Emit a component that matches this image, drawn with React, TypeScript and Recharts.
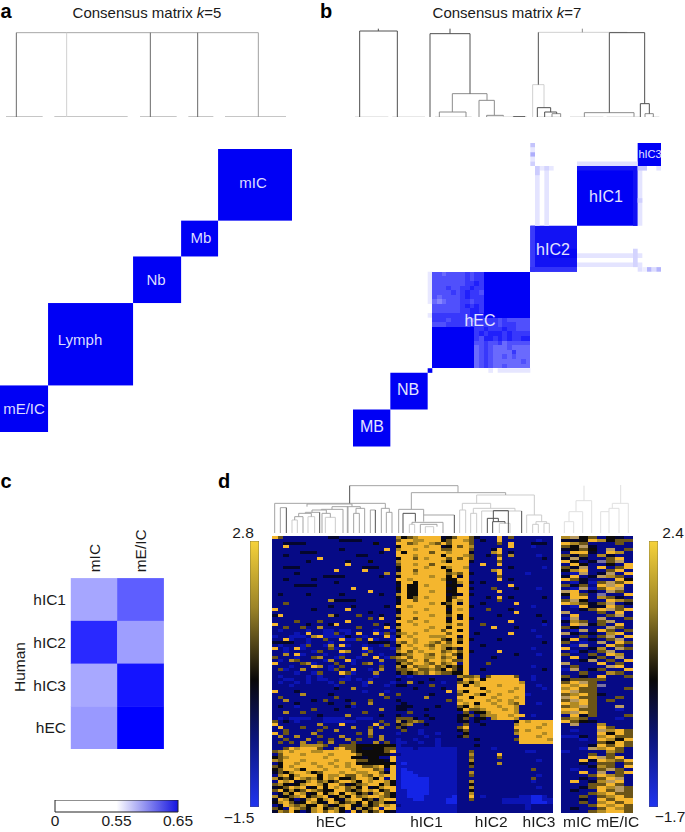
import React from "react";
import {
  Bar,
  BarChart,
  Line,
  LineChart,
  ReferenceArea,
  ReferenceLine,
  Scatter,
  ScatterChart,
  XAxis,
  YAxis,
} from "recharts";

const FONT = '"Liberation Sans", Arial, sans-serif';
const NO_MARGIN = { top: 0, right: 0, bottom: 0, left: 0 };
const BLUE = "#0000f5";

// dendrogram links: [left, right, height, left child height, right child height]
type Link = [number, number, number, number, number];

const dendroALines: Link[] = [[49, 775, 253, 253, 253]];
const dendroABase: Link[] = [[18, 128, 0, 0, 0], [163, 383, 0, 0, 0], [420, 530, 0, 0, 0], [565, 640, 0, 0, 0], [675, 858, 0, 0, 0]];
const dendroADark: Link[] = [[49, 49, 253, 0, 253], [451, 451, 253, 0, 253], [593, 593, 253, 0, 253]];
const dendroAMid: Link[] = [[775, 775, 253, 0, 253]];
const dendroALight: Link[] = [[200, 200, 253, 0, 253]];

const dendroBDark: Link[] = [
  [59, 172, 258, 0, 0], [115, 115, 265, 258, 265], [270, 390, 250, 0, 70], [330, 330, 265, 250, 265],
  [595, 595, 254, 97, 254], [808, 914, 253, 13, 40], [592, 632, 28, 0, 15], [614, 650, 15, 0, 10],
  [901, 928, 40, 0, 10], [520, 555, 1, 0, 0],
];
const dendroBMid: Link[] = [
  [337, 441, 70, 15, 50], [417, 463, 50, 0, 5], [298, 378, 15, 0, 0], [440, 490, 5, 0, 2],
  [636, 662, 10, 0, 0], [915, 940, 10, 0, 0], [733, 882, 13, 0, 0], [727, 727, 265, 254, 265],
];
const dendroBLight: Link[] = [
  [595, 862, 254, 254, 254], [578, 612, 97, 0, 28], [45, 145, 0, 0, 0], [157, 255, 0, 0, 0], [285, 395, 0, 0, 0],
  [440, 560, 0, 0, 0], [590, 660, 0, 0, 0], [690, 790, 0, 0, 0], [800, 880, 0, 0, 0], [885, 900, 0, 0, 0], [935, 958, 0, 0, 0],
];

const dendroDDark: Link[] = [
  [233, 233, 143, 90, 143], [43, 43, 77, 0, 77], [143, 143, 63, 0, 63], [393, 430, 60, 0, 35], [547, 547, 55, 0, 55],
  [664, 709, 68, 35, 0], [646, 679, 45, 0, 35], [749, 749, 67, 0, 67], [662, 699, 35, 0, 30], [310, 310, 70, 0, 70],
];
const dendroDMid: Link[] = [
  [233, 558, 143, 143, 122], [8, 340, 90, 0, 75], [25, 43, 77, 0, 77], [68, 93, 50, 40, 0], [80, 118, 60, 50, 50],
  [100, 143, 63, 60, 63], [150, 175, 60, 0, 48], [120, 163, 70, 63, 60], [148, 213, 72, 70, 0], [180, 228, 80, 72, 0],
  [105, 240, 88, 80, 80], [245, 262, 60, 0, 0], [252, 278, 75, 60, 0], [226, 265, 80, 0, 75], [295, 310, 70, 0, 70],
  [328, 352, 75, 0, 63], [343, 360, 63, 0, 0], [418, 701, 122, 72, 115], [380, 455, 72, 0, 55], [455, 547, 55, 35, 55],
  [420, 513, 33, 27, 0], [445, 495, 27, 0, 20],
];
const dendroDLight: Link[] = [
  [60, 76, 40, 0, 0], [108, 128, 50, 0, 0], [160, 190, 48, 0, 0], [412, 428, 27, 0, 0], [460, 485, 20, 0, 0],
  [614, 787, 115, 90, 55], [571, 656, 90, 70, 75], [563, 581, 70, 0, 0], [596, 614, 60, 0, 0], [604, 729, 75, 60, 67],
  [629, 749, 67, 0, 67], [682, 714, 30, 0, 0], [764, 809, 55, 0, 35], [792, 824, 35, 27, 30], [782, 799, 27, 0, 0], [816, 832, 30, 0, 0],
];
const dendroDMouse: Link[] = [
  [912, 959, 98, 65, 0], [936, 936, 143, 98, 143], [891, 932, 65, 35, 0], [877, 905, 35, 0, 0],
  [1021, 1069, 90, 75, 0], [1046, 1046, 145, 90, 145], [1011, 1041, 75, 65, 0], [986, 1011, 65, 0, 0],
];

// panel a: samples in each cluster, bottom left to top right
const kFiveNames = ["mE/IC", "Lymph", "Nb", "Mb", "mIC"];
const kFiveSizes = [13, 23, 13, 10, 20];

// panel b: blocks of the 66 x 66 matrix [x1, x2, y1, y2, colour]
const kSevenBlocks: [number, number, number, number, string][] = [
  [0, 8, 0, 8, BLUE], [8, 16, 8, 16, BLUE], [16, 17, 16, 17, BLUE], [38, 39, 38, 39, BLUE],
  [38, 48, 38, 48, "#1212f4"], [38, 39, 38, 48, "#3a3afa"], [38, 48, 38, 39, "#3232f8"], [42, 48, 41, 43, "#0808f4"],
  [48, 61, 48, 61, BLUE], [48, 61, 60, 61, "#1414f2"], [60, 61, 48, 61, "#1010f4"], [61, 66, 61, 66, BLUE],
  [38, 39, 65, 66, "#c4c4fc"], [38, 39, 64, 65, "#e8e8ff"], [38, 39, 63, 64, "#aeaefc"], [38, 39, 62, 63, "#e8e8ff"], [38, 39, 61, 62, "#d0d0fe"],
  [39, 40, 48, 61, "#e4e4ff"], [41, 42, 48, 61, "#e4e4ff"], [39, 43, 60, 61, "#e8e8ff"], [39, 40, 59, 61, "#ccccfe"], [41, 42, 60, 61, "#d4d4fe"],
  [48, 61, 61, 62, "#e0e0ff"], [61, 62, 48, 61, "#e4e4ff"], [61, 62, 53, 54, "#cfcffe"],
  [61, 63, 60, 61, "#c8c8fe"], [65, 66, 60, 61, "#e4e4ff"],
  [48, 62, 41, 42, "#e4e4ff"], [48, 62, 39, 40, "#e4e4ff"], [60, 61, 39, 43, "#d4d4fe"],
  [61, 62, 38, 39, "#e0e0ff"], [62, 63, 38, 39, "#eeeeff"], [63, 64, 38, 39, "#b4b4fc"], [64, 65, 38, 39, "#dcdcff"], [65, 66, 38, 39, "#b4b4fc"],
  [16, 17, 31, 38, "#e8e8ff"], [16, 17, 28, 29, "#e8e8ff"], [29, 30, 16, 17, "#e8e8ff"], [31, 38, 16, 17, "#e6e6ff"],
];

// panel b: hEC block, 21 x 21 cells, first string is the top row
const hecShades: Record<string, string> = {
  f: BLUE, a: "#2020fb", b: "#3838fb", c: "#5050fc", d: "#6a6afd", e: "#8686fe",
};
const hecRows = [
  "ccdccccbcbbffffffffff", "cccccccbcbbffffffffff", "cccccccbbabffffffffff", "cccbccbbabbffffffffff",
  "ccccbcbabbcffffffffff", "cdccccbabbbffffffffff", "dedcccbbcbbffffffffff", "ccccccbababffffffffff",
  "ccccccbbaabffffffffff", "bbbbbbbbaaaffffffffff", "bbbcbbbccbbbbbcbccccc", "cccbbbbcbbbbbbcbbbccc",
  "fffffffffbbabbbabbccc", "fffffffffbabaaababbbb", "fffffffffbcaabababbaa", "fffffffffccbccbdccccc",
  "fffffffffdcbcdddcdddd", "fffffffffdcbcddddbddd", "fffffffffdcbcddcdcddd", "fffffffffdcbcddddddcd",
  "fffffffffdcbcddcddddd",
];

// panel c
const humanClusters = ["hIC1", "hIC2", "hIC3", "hEC"];
const mouseClusters = ["mIC", "mE/IC"];
const mICSimilarity = [0.585, 0.634, 0.584, 0.59];
const mEICSimilarity = [0.613, 0.588, 0.642, 0.65];
const similarityTicks = ["0", "0.55", "0.65"];

// panel d: one digit per cell, see exprColours
const exprColours = ["#1424e6", "#0b14b4", "#060a86", "#04062e", "#0d0b0a", "#6b5518", "#f4b62e", "#b89a60", "#7a72a0", "#b08a24"];
const EXPR_ROWS = 92;
const humanLabels = ["hEC", "hIC1", "hIC2", "hIC3"];
const humanLabelCols = [10.5, 27.5, 39, 47.5];
const humanDividers = [22, 33, 44.7];
const rowDividers = [46.2, 60.8, 69];
const mouseLabels = ["mIC", "mE/IC"];
const mouseLabelCols = [1.8, 6.3];
const humanExpr = [
  "6522222222332222222222 94596666345 665322262522 22222",
  "2222222222223333222222 56699666456 695232262222 22122",
  "2233332222222222224222 66596695656 665222252622 23332",
  "2262222222222222222222 46666966346 569222222622 21222",
  "2222222222223222222262 96696666556 665222362222 22222",
  "2222233322222222222322 64666656696 663222962322 22222",
  "2232222222222223322222 66696666466 695223252922 22122",
  "2222222262222222222222 46656966656 565222262222 22232",
  "2222223222222322242222 96666666946 663222252222 22222",
  "2222222222222622222222 56696656666 662262262222 22222",
  "2233322222222222333222 46666966496 692222222322 22212",
  "2222222222262222622222 36656666646 662222962222 22222",
  "2222322222222222222292 96696666659 563222262222 12222",
  "2222222223333222222322 46666696646 362222252222 22222",
  "2232222322222222222222 66966666944 662222262322 22222",
  "2222222222232222222222 46646666634 963232222222 22222",
  "2222333322222222222222 36446966644 362222222622 22222",
  "2222222222222262222222 46446666634 663222522232 22122",
  "2222222222222222262222 36446696644 662222262222 22222",
  "2322223222223222222322 96446666634 363222222222 22222",
  "2222222222222222222222 46456966645 662223262322 22232",
  "2222222222933332222222 36656666646 962222252222 22222",
  "2252222222222222222222 46666696456 362232222262 22222",
  "2222222222322232222232 66966666646 663222222222 21222",
  "6222222322222622222222 46666966636 962225222322 22222",
  "2222222222222222232222 36696666646 662222222262 22222",
  "3622222222932225222322 96666696656 462222232222 22322",
  "2222222222222222252622 46656666636 363222222222 22222",
  "2222522252222622222222 66966966646 662222222622 22232",
  "6222223222362222225232 46696666696 562252222222 22212",
  "2252252292222225222262 96666696646 662222622232 22222",
  "2122221221121122221221 46666966566 462222222222 21222",
  "2222126221152126226152 59696666656 662322222622 22222",
  "1221112961111322122261 46966699966 362222222222 22122",
  "2261221225226115261221 66696666546 563222232222 22222",
  "3333221222122222233332 95696695656 462222222222 22232",
  "2122215221926122122152 46966956996 662232222222 22222",
  "6212612222512222612221 56696696945 362222222222 21222",
  "2212222152226922152222 96569666596 563222262222 22222",
  "2292612221221222922122 45966956965 462222222232 22122",
  "5222122592215221226215 96566996596 362222322222 22222",
  "2129522221922612222922 55696566965 562222222222 22222",
  "6222259122252212592122 49566956596 262225222222 22222",
  "2221222692125222222522 94659965945 462222222222 21222",
  "2512292222152262212922 55965595465 362232222222 22232",
  "2222122152226512229222 35459569554 462222222222 22222",
  "2122221212222122221222 12122222222 955925666652 21222",
  "2211221211221121212222 32222232222 369646666662 21222",
  "2122121222125222192221 22923222122 594966666669 22222",
  "2221222222212222122212 33222252222 646966696666 22122",
  "2222222222232292222222 22232222322 666646666696 22212",
  "6222322222222222122212 22222222262 946669666966 22222",
  "2222292222322222222922 52222232222 566946696666 12222",
  "2522222222252222222252 22222922222 664666966696 22222",
  "2292222325222322252222 32222222252 966669696966 22222",
  "2222322222322252292222 23222222222 696466966956 22122",
  "2322122222222312222222 33322223222 546966696692 22222",
  "2222222522232222222922 33222322222 465596669692 22222",
  "2292252222222222522222 22522222222 252449666692 22222",
  "2222222232222922222322 32222322222 345259966966 21222",
  "2121111221111221112222 55532232222 352342966692 22222",
  "5232122221111112222522 93595222222 332322222236 96666",
  "6222222292226222226252 35922322222 252232222296 66696",
  "2622252225222292252922 53222222222 562222222266 66966",
  "2252222252292222292222 25221222222 352222222256 96666",
  "6252222922222225292222 12221221222 242222222296 66696",
  "2922922252229222252922 22222122222 352222222226 66966",
  "2252229222522925222922 12212221222 222322222256 66669",
  "2525292252922252229252 11221221222 222222222226 66666",
  "2222299995225554444444 12222221222 222322222222 22222",
  "2256966652296554334455 11121111111 222222122222 22222",
  "5969666996666654444456 11111111111 225222222222 11222",
  "2566696666966665444442 21111111111 229222262222 22222",
  "4596666669666644344226 11111111111 225222252222 22222",
  "9566696666696665544436 11111111111 229222222222 22122",
  "2466966966966964444444 10111111111 224222292222 22222",
  "5469666696696966559646 11111111111 225222222222 22222",
  "4566946669666696665926 10111111111 222222222222 25222",
  "3549669456669669966536 10011111111 229222222222 22222",
  "2964966646996556956966 10001111111 225222222222 22122",
  "9454695946964456694626 10000011111 222222222222 25222",
  "2696349659456694696694 10000011111 229222222222 21222",
  "5943496694665345966494 10000011111 224222222222 22222",
  "3456963464696594634966 10000011111 229222222222 22122",
  "5649456954466545696456 11000011111 224222222222 22222",
  "2394693464964694539654 11000011111 229222222222 22222",
  "9345964596349465966954 11000111110 226212222221 10012",
  "3694239649643966453966 11100111100 225222221111 10011",
  "4965346943694594645943 11111111100 222222221111 10001",
  "2369594465349643945696 21111111111 222222222222 12222",
  "5426954964594639456266 11111111111 222222222222 12222",
  "3956423965694263945643 11111111111 222222222222 22222",
];
const mouseExpr = [
  "9745 2432", "3346 9455", "6952 2252", "5473 2222", "3454 2725", "2663 2692", "5352 9322", "3732 2562",
  "6423 8572", "2642 2426", "5372 6256", "4962 2562", "2172 3726", "3623 7952", "6532 2264", "2131 5756",
  "5352 6762", "2171 5672", "7623 2752", "4652 8226", "2662 9532", "5742 2695", "6953 5723", "2163 3652",
  "2235 6756", "7222 5262", "2622 2572", "1722 7225", "3952 5722", "2673 5262", "5422 2752", "2172 6525",
  "7323 2962", "2252 5726", "3623 2572", "5212 7265", "2172 2652", "6223 9275", "2132 5722", "5225 2692",
  "2623 5272", "2237 2526", "7222 6252", "2522 2762", "1723 5226", "2252 2952", "5232 6225", "3555 5222",
  "5675 2222", "6965 8222", "9655 2225", "6755 2222", "5965 3222", "7655 2252", "5765 2522", "6965 2222",
  "5975 2272", "6655 2212", "9765 2222", "2635 2225", "5952 2212", "6543 2222", "2722 9222", "2222 6522",
  "2122 7965", "2222 6465", "1132 9655", "2212 6946", "2222 5465", "2223 6565", "2217 9652", "1222 2952",
  "2225 2522", "2226 7562", "2263 6956", "2232 5525", "2223 9526", "2122 5752", "2262 7256", "2225 6952",
  "2232 5672", "2623 9762", "2225 5652", "2235 6975", "2322 6575", "2225 9655", "2252 5965", "2232 6566",
  "2252 9656", "2225 6965", "2322 5695", "2225 9665",
];

function linkPoints(links: Link[]) {
  return links.flatMap(([l, r, h, hl, hr]) => [
    { x: l, h: hl },
    { x: l, h },
    { x: r, h },
    { x: r, h: hr },
    { x: r, h: null },
  ]);
}

function Dendrogram({ left, top, width, height, xMax, yMax, shades }: any) {
  return (
    <div style={{ position: "absolute", left, top }}>
      <LineChart width={width} height={height} margin={NO_MARGIN}>
        <XAxis type="number" dataKey="x" domain={[0, xMax]} hide />
        <YAxis type="number" domain={[0, yMax]} hide />
        {shades.map(([colour, links]: [string, Link[]], i: number) => (
          <Line
            key={i}
            data={linkPoints(links)}
            dataKey="h"
            stroke={colour}
            strokeWidth={1}
            dot={false}
            activeDot={false}
            connectNulls={false}
            isAnimationActive={false}
          />
        ))}
      </LineChart>
    </div>
  );
}

function cellsFromRows(rows: string[]) {
  return rows.flatMap((row, r) =>
    row
      .replace(/ /g, "")
      .split("")
      .map((level, c) => ({ x: c + 0.5, y: r + 0.5, level })),
  );
}

function ExprHeatmap({ left, width, cols, rows, labels, labelCols, dividers }: any) {
  const cellW = width / cols;
  const cellH = 277 / EXPR_ROWS;
  return (
    <div style={{ position: "absolute", left: left - 12, top: 536, filter: "blur(0.5px)" }}>
      <ScatterChart width={width + 24} height={277 + 19} margin={{ top: 0, right: 12, bottom: 0, left: 12 }}>
        <XAxis
          type="number"
          dataKey="x"
          domain={[0, cols]}
          ticks={labelCols}
          interval={0}
          height={19}
          tickFormatter={(v: number) => labels[labelCols.indexOf(v)]}
          axisLine={false}
          tickLine={false}
          tickSize={0}
          tickMargin={3}
          tick={{ fill: "#1a1a1a", fontSize: 15.5, fontFamily: FONT }}
        />
        <YAxis type="number" dataKey="y" domain={[0, EXPR_ROWS]} reversed hide />
        <Scatter
          data={cellsFromRows(rows)}
          isAnimationActive={false}
          shape={(p: any) => (
            <rect
              x={p.cx - cellW / 2}
              y={p.cy - cellH / 2}
              width={cellW}
              height={cellH}
              shapeRendering="crispEdges"
              fill={exprColours[Number(p.payload.level)]}
            />
          )}
        />
        {dividers.map((d: number) => (
          <ReferenceLine key={d} x={d} stroke="#b4b4d8" strokeOpacity={0.7} />
        ))}
        {rowDividers.map((d) => (
          <ReferenceLine key={d} y={d} stroke="#b4b4d8" strokeOpacity={0.6} />
        ))}
      </ScatterChart>
    </div>
  );
}

function ColourBar({ id, left }: { id: string; left: number }) {
  return (
    <div style={{ position: "absolute", left, top: 541 }}>
      <BarChart width={9} height={266} data={[{ name: id, v: 1 }]} margin={NO_MARGIN} barCategoryGap={0}>
        <defs>
          <linearGradient id={id} x1="0" y1="0" x2="0" y2="1">
            <stop offset="0%" stopColor="#f6d23a" />
            <stop offset="25%" stopColor="#9c8428" />
            <stop offset="52%" stopColor="#0a0808" />
            <stop offset="75%" stopColor="#0c1680" />
            <stop offset="100%" stopColor="#2034f0" />
          </linearGradient>
        </defs>
        <XAxis dataKey="name" hide />
        <YAxis domain={[0, 1]} hide />
        <Bar dataKey="v" fill={`url(#${id})`} stroke="#554" strokeWidth={0.6} isAnimationActive={false} />
      </BarChart>
    </div>
  );
}

function similarityColour(v: number) {
  const t = Math.min(1, Math.max(0, (v - 0.55) / 0.1));
  const c = Math.round(255 * (1 - t));
  return `rgb(${c},${c},255)`;
}

function RotatedTick({ x, y, payload }: any) {
  return (
    <text
      x={x}
      y={y}
      dy="0.35em"
      transform={`rotate(-90 ${x} ${y})`}
      fontSize={15.5}
      fontFamily={FONT}
      fill="#1a1a1a"
    >
      {mouseClusters[Math.floor(payload.value)]}
    </text>
  );
}

function SimilarityHeatmap() {
  const data = humanClusters.flatMap((_, r) => [
    { x: 0.5, y: r + 0.5, v: mICSimilarity[r] },
    { x: 1.5, y: r + 0.5, v: mEICSimilarity[r] },
  ]);
  const cellW = 92.7 / 2 + 0.4;
  const cellH = 171 / 4 + 0.4;
  return (
    <div style={{ position: "absolute", left: 0, top: 520 }}>
      <ScatterChart width={170} height={229.3} margin={{ top: 0, right: 6.3, bottom: 0, left: 0 }}>
        <XAxis
          type="number"
          dataKey="x"
          orientation="top"
          domain={[0, 2]}
          ticks={[0.5, 1.5]}
          interval={0}
          height={58.3}
          axisLine={false}
          tickLine={false}
          tickSize={4}
          tick={<RotatedTick />}
        />
        <YAxis
          type="number"
          dataKey="y"
          domain={[0, 4]}
          reversed
          ticks={[0.5, 1.5, 2.5, 3.5]}
          interval={0}
          width={71}
          axisLine={false}
          tickLine={false}
          tickSize={0}
          tickMargin={5}
          tickFormatter={(v: number) => humanClusters[Math.floor(v)]}
          tick={{ fill: "#1a1a1a", fontSize: 15.5, fontFamily: FONT }}
        />
        <Scatter
          data={data}
          isAnimationActive={false}
          shape={(p: any) => (
            <rect
              x={p.cx - cellW / 2}
              y={p.cy - cellH / 2}
              width={cellW}
              height={cellH}
              fill={similarityColour(p.payload.v)}
            />
          )}
        />
      </ScatterChart>
    </div>
  );
}

function SimilarityScale() {
  return (
    <div style={{ position: "absolute", left: 35, top: 800 }}>
      <BarChart
        layout="vertical"
        width={163}
        height={32}
        data={[{ name: "scale", v: 2 }]}
        margin={{ top: 0, right: 20, bottom: 0, left: 20 }}
        barCategoryGap={0}
      >
        <defs>
          <linearGradient id="simScale" x1="0" y1="0" x2="1" y2="0">
            <stop offset="0%" stopColor="#ffffff" />
            <stop offset="50%" stopColor="#ffffff" />
            <stop offset="100%" stopColor="#1414e0" />
          </linearGradient>
        </defs>
        <XAxis
          type="number"
          domain={[0, 2]}
          ticks={[0, 1, 2]}
          interval={0}
          height={20}
          axisLine={false}
          tickLine={false}
          tickSize={0}
          tickMargin={3}
          tickFormatter={(v: number) => similarityTicks[v]}
          tick={{ fill: "#1a1a1a", fontSize: 15.5, fontFamily: FONT }}
        />
        <YAxis type="category" dataKey="name" hide />
        <Bar dataKey="v" fill="url(#simScale)" stroke="#222" strokeWidth={1} isAnimationActive={false} />
      </BarChart>
    </div>
  );
}

function ClusterBlocksK5() {
  let start = 0;
  const blocks = kFiveSizes.map((size, i) => {
    const block = { name: kFiveNames[i], size, x: start + size / 2, y: start + size / 2 };
    start += size;
    return block;
  });
  return (
    <div style={{ position: "absolute", left: 0, top: 149 }}>
      <ScatterChart width={292} height={283} margin={NO_MARGIN}>
        <XAxis type="number" dataKey="x" domain={[0, 79]} hide />
        <YAxis type="number" dataKey="y" domain={[0, 79]} hide />
        <Scatter
          data={blocks}
          isAnimationActive={false}
          shape={(p: any) => {
            const w = (p.payload.size * 292) / 79;
            const h = (p.payload.size * 283) / 79;
            return <rect x={p.cx - w / 2} y={p.cy - h / 2} width={w} height={h} fill={BLUE} />;
          }}
        />
      </ScatterChart>
    </div>
  );
}

function ClusterBlocksK7() {
  const cellW = 308 / 66;
  const cellH = 303.4 / 66;
  const hecCells = hecRows.flatMap((row, r) =>
    row.split("").map((level, c) => ({ x: 17 + c + 0.5, y: 38 - r - 0.5, level })),
  );
  return (
    <div style={{ position: "absolute", left: 353.33, top: 143.3 }}>
      <ScatterChart width={308} height={303.4} margin={NO_MARGIN}>
        <XAxis type="number" dataKey="x" domain={[0, 66]} hide />
        <YAxis type="number" dataKey="y" domain={[0, 66]} hide />
        {kSevenBlocks.map(([x1, x2, y1, y2, fill], i) => (
          <ReferenceArea key={i} x1={x1} x2={x2} y1={y1} y2={y2} fill={fill} fillOpacity={1} strokeOpacity={0} />
        ))}
        <Scatter
          data={hecCells}
          isAnimationActive={false}
          shape={(p: any) => (
            <rect
              x={p.cx - cellW / 2}
              y={p.cy - cellH / 2}
              width={cellW}
              height={cellH}
              shapeRendering="crispEdges"
              fill={hecShades[p.payload.level]}
            />
          )}
        />
      </ScatterChart>
    </div>
  );
}

function Label({ x, y, size = 15.5, color = "#1a1a1a", bold, rotate, children }: any) {
  return (
    <div
      style={{
        position: "absolute",
        left: x,
        top: y,
        transform: `translate(-50%, -50%)${rotate ? ` rotate(${rotate}deg)` : ""}`,
        fontFamily: FONT,
        fontSize: size,
        fontWeight: bold ? 700 : 400,
        color,
        whiteSpace: "nowrap",
        lineHeight: 1,
      }}
    >
      {children}
    </div>
  );
}

export default function App() {
  return (
    <div style={{ position: "absolute", left: 0, top: 0, width: 685, height: 832, background: "#fff", overflow: "hidden" }}>
      <Dendrogram
        left={0}
        top={26.67}
        width={340}
        height={90}
        xMax={1020}
        yMax={270}
        shades={[["#a8a8a8", dendroALines], ["#8c8c8c", dendroABase], ["#6a6a6a", dendroADark], ["#a0a0a0", dendroAMid], ["#d0d0d0", dendroALight]]}
      />
      <Dendrogram
        left={340}
        top={26.67}
        width={340}
        height={90}
        xMax={1020}
        yMax={270}
        shades={[["#d0d0d0", dendroBLight], ["#8c8c8c", dendroBMid], ["#505050", dendroBDark]]}
      />
      <Dendrogram
        left={272}
        top={480}
        width={362}
        height={53.33}
        xMax={1086}
        yMax={160}
        shades={[["#e0e0e0", dendroDMouse], ["#cccccc", dendroDLight], ["#a4a4a4", dendroDMid], ["#505050", dendroDDark]]}
      />
      <ClusterBlocksK5 />
      <ClusterBlocksK7 />
      <SimilarityHeatmap />
      <SimilarityScale />
      <ExprHeatmap left={272} width={281} cols={50} rows={humanExpr} labels={humanLabels} labelCols={humanLabelCols} dividers={humanDividers} />
      <ExprHeatmap left={561} width={72} cols={8} rows={mouseExpr} labels={mouseLabels} labelCols={mouseLabelCols} dividers={[4]} />
      <ColourBar id="humanBar" left={250} />
      <ColourBar id="mouseBar" left={649} />

      <Label x={6} y={11} size={20} bold color="#000">a</Label>
      <Label x={326} y={11} size={20} bold color="#000">b</Label>
      <Label x={6} y={481} size={20} bold color="#000">c</Label>
      <Label x={224} y={481} size={20} bold color="#000">d</Label>
      <Label x={147} y={12} size={15}>Consensus matrix <i>k</i>=5</Label>
      <Label x={507} y={12} size={15}>Consensus matrix <i>k</i>=7</Label>

      <Label x={253} y={182} size={15} color="#dcdcff">mIC</Label>
      <Label x={201} y={237} size={15} color="#dcdcff">Mb</Label>
      <Label x={156} y={279} size={15} color="#dcdcff">Nb</Label>
      <Label x={80} y={339} size={15} color="#dcdcff">Lymph</Label>
      <Label x={24} y={408} size={15} color="#dcdcff">mE/IC</Label>

      <Label x={650} y={154} size={11} color="#e4e4ff">hIC3</Label>
      <Label x={606} y={197} size={16} color="#e4e4ff">hIC1</Label>
      <Label x={553} y={250} size={16} color="#e4e4ff">hIC2</Label>
      <Label x={480} y={321} size={16} color="#e4e4ff">hEC</Label>
      <Label x={408} y={390} size={16} color="#e4e4ff">NB</Label>
      <Label x={372} y={427} size={16} color="#e4e4ff">MB</Label>

      <Label x={20} y={667} rotate={-90}>Human</Label>
      <Label x={243} y={533}>2.8</Label>
      <Label x={239} y={818}>−1.5</Label>
      <Label x={673} y={533}>2.4</Label>
      <Label x={670} y={817}>−1.7</Label>
    </div>
  );
}
